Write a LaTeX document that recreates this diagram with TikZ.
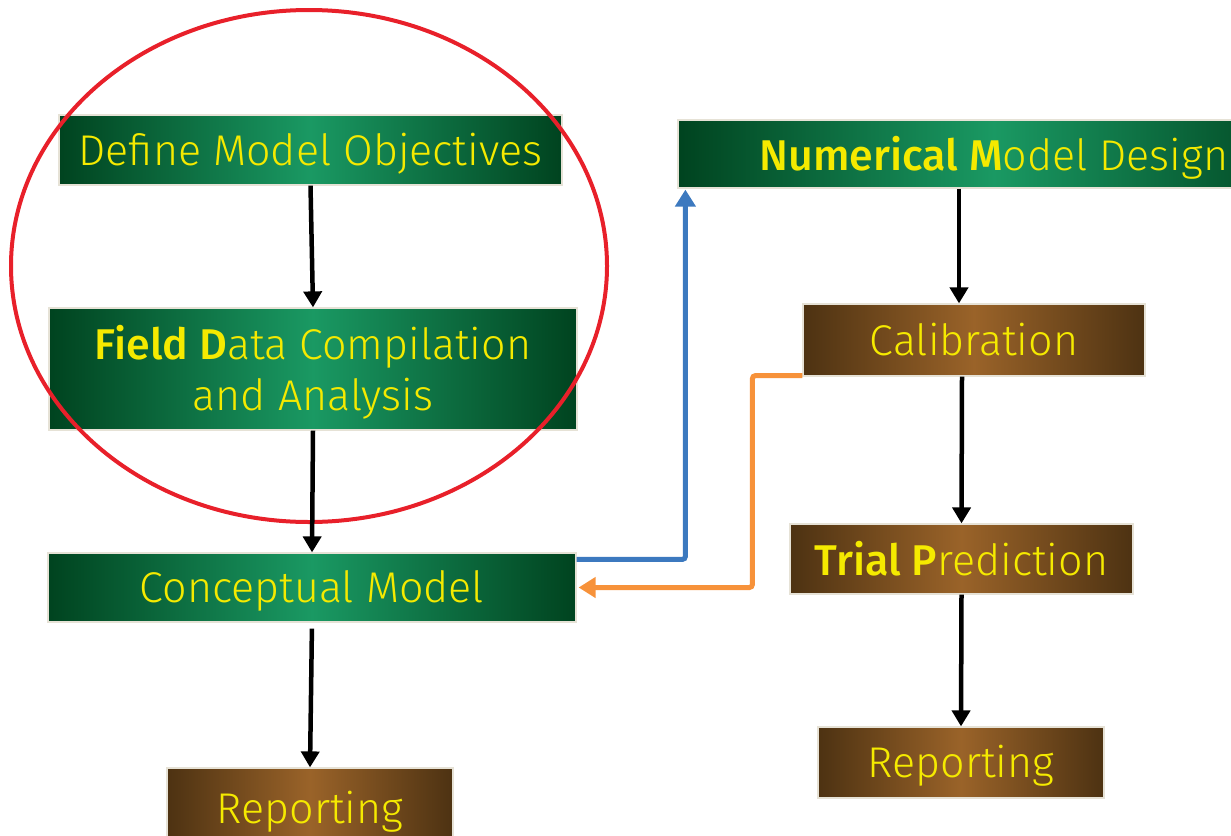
\documentclass[tikz,border=0pt]{standalone}
\usepackage{fontspec}
\setmainfont{Fira Sans}[UprightFont=* Light, BoldFont=* Medium]
\usetikzlibrary{arrows.meta,calc}
\definecolor{gdark}{HTML}{00431F}
\definecolor{gmid}{HTML}{1A9963}
\definecolor{bdark}{HTML}{4D3212}
\definecolor{bmid}{HTML}{9A6329}
\definecolor{txt}{HTML}{F5EA00}
\definecolor{edge}{HTML}{E6E2D6}
\definecolor{ared}{HTML}{E8202A}
\definecolor{ablue}{HTML}{3C79BF}
\definecolor{aorange}{HTML}{F7923A}
\tikzset{
  gbox/.style={rectangle, draw=edge, line width=1.2pt, left color=gdark, right color=gdark, middle color=gmid,
    text=txt, font=\fontsize{43}{51}\selectfont, align=center, inner sep=0pt, text depth=2pt},
  bbox/.style={rectangle, draw=edge, line width=1.2pt, left color=bdark, right color=bdark, middle color=bmid,
    text=txt, font=\fontsize{43}{51}\selectfont, align=center, inner sep=0pt, text depth=2pt},
  flow/.style={black, line width=4.5pt, -{Triangle[width=18pt,length=16pt]}},
  feed/.style={line width=5pt, rounded corners=3pt, -{Triangle[width=20pt,length=17pt]}}
}
\begin{document}
\begin{tikzpicture}[x=1pt,y=-1pt]
\useasboundingbox (0,0) rectangle (1231,835);
\node[gbox, minimum width=503pt, minimum height=70pt] (def) at (310.5,150) {Define Model Objectives};
\node[gbox, minimum width=528pt, minimum height=122pt] (fld) at (313,369) {\textbf{Field D}ata Compilation\\and Analysis};
\node[gbox, minimum width=528pt, minimum height=69pt] (con) at (312,587.5) {Conceptual Model};
\node[bbox, minimum width=286pt, minimum height=80pt] (repl) at (310,808) {Reporting};
\node[gbox, minimum width=632pt, minimum height=68pt] (num) at (994,154) {\textbf{Numerical M}odel Design};
\node[bbox, minimum width=342pt, minimum height=72pt] (cal) at (974,340) {Calibration};
\node[bbox, minimum width=343pt, minimum height=70pt] (tri) at (961.5,559) {\textbf{Trial P}rediction};
\node[bbox, minimum width=286pt, minimum height=71pt] (repr) at (961,762.5) {Reporting};

\draw[ared, line width=4pt] (309,266) ellipse [x radius=298pt, y radius=256pt];

\draw[flow] (def.south) -- (fld.north);
\draw[flow] (fld.south) -- (con.north);
\draw[flow, shorten <=6pt] (con.south) -- (repl.north);
\draw[flow] ([xshift=-35pt]num.south) -- ([xshift=-15pt]cal.north);
\draw[flow] ([xshift=-12pt]cal.south) -- (tri.north);
\draw[flow] (tri.south) -- (repr.north);

\draw[feed, ablue] ([yshift=-7pt]con.north east) -| ([xshift=8pt,yshift=-1pt]num.south west);
\draw[feed, aorange] ([yshift=1pt]cal.south west) -- ++(-50pt,0) |- ([xshift=2pt]con.east);
\end{tikzpicture}
\end{document}
